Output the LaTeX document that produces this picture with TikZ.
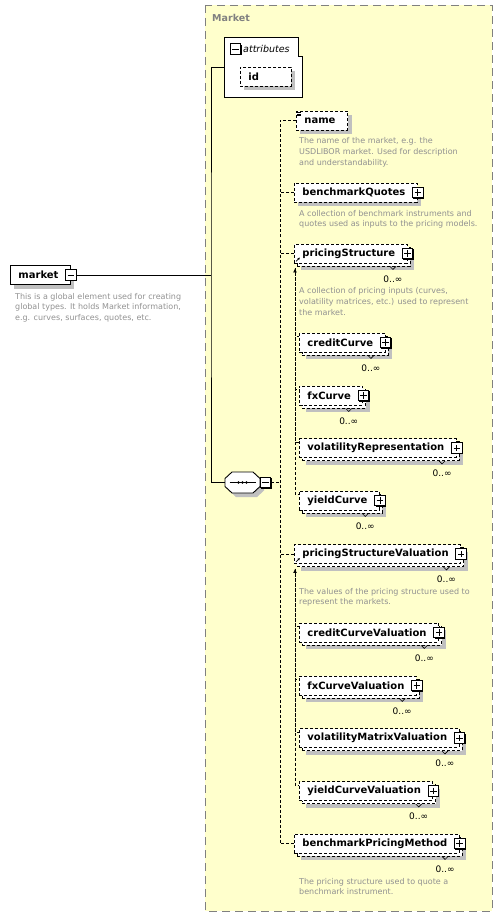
\documentclass[tikz,border=0pt]{standalone}
\usepackage{fontspec}
\setmainfont{DejaVu Sans}
\usetikzlibrary{arrows.meta, shadows, positioning, calc}
\definecolor{schemabg}{RGB}{255,255,204}
\definecolor{framegray}{RGB}{128,128,128}
\definecolor{notegray}{RGB}{145,145,145}
\definecolor{shadowgray}{RGB}{192,192,192}

\tikzset{
  elem/.style={draw, fill=white, line width=0.9pt, anchor=west,
    font=\bfseries\fontsize{10}{12}\selectfont, minimum height=19pt,
    inner xsep=8pt, inner ysep=0pt, execute at end node={\hspace*{4pt}}},
  opt/.style={dash pattern=on 3pt off 2pt},
  single/.style={drop shadow={shadow xshift=4pt, shadow yshift=-4pt,
    fill=shadowgray, opacity=1, draw=none}},
  many/.style={drop shadow={shadow xshift=7pt, shadow yshift=-7pt,
    fill=shadowgray, opacity=1, draw=none},
    copy shadow={shadow xshift=3pt, shadow yshift=-3pt, draw=black,
    fill=white, opacity=1, dash pattern=on 3pt off 2pt}},
  boxshadow/.style={drop shadow={shadow xshift=0.9pt, shadow yshift=-0.9pt,
    fill=black, opacity=1, draw=none}},
  plusbox/.style={draw, fill=white, line width=0.8pt, minimum size=10.5pt, inner sep=0pt, boxshadow,
    path picture={\draw[line width=0.7pt]
      ([xshift=2pt]path picture bounding box.west) -- ([xshift=-2pt]path picture bounding box.east)
      ([yshift=-2pt]path picture bounding box.north) -- ([yshift=2pt]path picture bounding box.south);}},
  minusbox/.style={draw, fill=white, line width=0.8pt, minimum size=10.5pt, inner sep=0pt, boxshadow,
    path picture={\draw[line width=0.7pt]
      ([xshift=2pt]path picture bounding box.west) -- ([xshift=-2pt]path picture bounding box.east);}},
  occ/.style={font=\fontsize{9}{10}\selectfont, anchor=base east, inner sep=0pt},
  note/.style={font=\fontsize{8}{10.7}\selectfont, text=notegray, align=left,
    anchor=north west, inner sep=0pt},
  conn/.style={line width=0.9pt, opt},
  solidline/.style={line width=0.9pt}
}

\begin{document}
\begin{tikzpicture}[x=1pt, y=-1pt]
  \useasboundingbox (0,0) rectangle (502,917);

  % complex type frame
  \draw[framegray, fill=schemabg, line width=0.9pt, dash pattern=on 8pt off 5pt] (205,5) rectangle (492,911);
  \node[font=\bfseries\fontsize{9.5}{11}\selectfont, text=framegray, anchor=west, inner sep=0pt] (title) at (212,18) {Market};

  % global element
  \node[elem, single] (market) at (10,275) {market};
  \node[minusbox] (marketM) at (market.east) {};
  \node[note] (marketNote) at (15,293) {This is a global element used for creating\\global types. It holds Market information,\\e.g. curves, surfaces, quotes, etc.};

  % attributes
  \node[minimum width=77pt, minimum height=59pt, inner sep=0pt] (attr) at (263.5,67.5) {};
  \draw[solidline, fill=white] (attr.north west) -- ([xshift=-4pt]attr.north east)
    -- ([xshift=-4pt,yshift=-19pt]attr.north east) -- ([yshift=-19pt]attr.north east)
    -- (attr.south east) -- (attr.south west) -- cycle;
  \node[minusbox] (attrM) at (235.5,49) {};
  \node[font=\itshape\fontsize{9.5}{11}\selectfont, anchor=west, inner sep=0pt] (attrT) at (243,48.5) {attributes};
  \node[elem, opt, single, text width=35pt, align=left] (id) at (240,76.5) {id};

  % sequence
  \node[minimum width=35pt, minimum height=21pt, inner sep=0pt] (seq) at (242.5,482.5) {};
  \draw[solidline, fill=white, single] ([shift={(-17.5,-4)}]seq.center) -- ([shift={(-10.5,-10.5)}]seq.center)
    -- ([shift={(10.5,-10.5)}]seq.center) -- ([shift={(17.5,-4)}]seq.center)
    -- ([shift={(17.5,4)}]seq.center) -- ([shift={(10.5,10.5)}]seq.center)
    -- ([shift={(-10.5,10.5)}]seq.center) -- ([shift={(-17.5,4)}]seq.center) -- cycle;
  \draw[solidline] ([xshift=-13pt]seq.center) -- ([xshift=13pt]seq.center);
  \foreach \dx in {-4,0,4}
    \fill ([xshift=\dx pt]seq.center) circle (1.4pt);
  \node[minusbox] (seqM) at (265.5,482.5) {};

  \coordinate (trunk) at (211,275);
  \draw[solidline] (marketM.east) -- (trunk);
  \draw[solidline] (attr.west) -| (trunk) |- (seq.west);

  % child elements
  \node[elem, opt, single] (name) at (296,120.5) {name};
  \node[note] (nameNote) at (299,137.5) {The name of the market, e.g. the\\USDLIBOR market. Used for description\\and understandability.};
  \draw[line width=0.6pt] ([shift={(1,2)}]name.north west) -- ++(4,0)
    ([shift={(1,3.5)}]name.north west) -- ++(4,0)
    ([shift={(1,5)}]name.north west) -- ++(4,0);

  \node[elem, opt, single] (bq) at (294,192.5) {benchmarkQuotes};
  \node[plusbox] at (bq.east) {};
  \node[note] (bqNote) at (299,210) {A collection of benchmark instruments and\\quotes used as inputs to the pricing models.};

  \node[elem, opt, many] (ps) at (294,253.5) {pricingStructure};
  \node[plusbox] at (ps.east) {};
  \node[occ] (occps) at ([shift={(-5,19)}]ps.south east) {0..∞};
  \node[note] (psNote) at (299,287.5) {A collection of pricing inputs (curves,\\volatility matrices, etc.) used to represent\\the market.};

  \node[elem, opt, many] (cc) at (299,342.5) {creditCurve};
  \node[plusbox] at (cc.east) {};
  \node[occ] (occcc) at ([shift={(-5,19)}]cc.south east) {0..∞};

  \node[elem, opt, many] (fx) at (299,395.5) {fxCurve};
  \node[plusbox] at (fx.east) {};
  \node[occ] (occfx) at ([shift={(-5,19)}]fx.south east) {0..∞};

  \node[elem, opt, many] (vr) at (299,448) {volatilityRepresentation};
  \node[plusbox] at (vr.east) {};
  \node[occ] (occvr) at ([shift={(-5,19)}]vr.south east) {0..∞};

  \node[elem, opt, many] (yc) at (299,500.5) {yieldCurve};
  \node[plusbox] at (yc.east) {};
  \node[occ] (occyc) at ([shift={(-5,19)}]yc.south east) {0..∞};

  \node[elem, opt, many] (psv) at (294,554) {pricingStructureValuation};
  \node[plusbox] at (psv.east) {};
  \node[occ] (occpsv) at ([shift={(-5,19)}]psv.south east) {0..∞};
  \node[note] (psvNote) at (299,588) {The values of the pricing structure used to\\represent the markets.};

  \node[elem, opt, many] (ccv) at (299,632.5) {creditCurveValuation};
  \node[plusbox] at (ccv.east) {};
  \node[occ] (occccv) at ([shift={(-5,19)}]ccv.south east) {0..∞};

  \node[elem, opt, many] (fxv) at (299,685.5) {fxCurveValuation};
  \node[plusbox] at (fxv.east) {};
  \node[occ] (occfxv) at ([shift={(-5,19)}]fxv.south east) {0..∞};

  \node[elem, opt, many] (vmv) at (299,738) {volatilityMatrixValuation};
  \node[plusbox] at (vmv.east) {};
  \node[occ] (occvmv) at ([shift={(-5,19)}]vmv.south east) {0..∞};

  \node[elem, opt, many] (ycv) at (299,791) {yieldCurveValuation};
  \node[plusbox] at (ycv.east) {};
  \node[occ] (occycv) at ([shift={(-5,19)}]ycv.south east) {0..∞};

  \node[elem, opt, many] (bpm) at (294,843.5) {benchmarkPricingMethod};
  \node[plusbox] at (bpm.east) {};
  \node[occ] (occbpm) at ([shift={(-5,19)}]bpm.south east) {0..∞};
  \node[note] (bpmNote) at (299,878) {The pricing structure used to quote a\\benchmark instrument.};

  % repeat notches
  \foreach \m in {ps, cc, fx, vr, yc, psv, ccv, fxv, vmv, ycv, bpm}
    \draw[line width=0.6pt] ($(occ\m.north |- \m.south)+(-3,3)$) -- ++(3,3) -- ++(3,-3);

  % sequence branches
  \coordinate (ctrunk) at (280,482.5);
  \draw[conn] (seqM.east) -- (ctrunk);
  \draw[conn] (name.west) -| (ctrunk) |- (bpm.west);
  \foreach \n in {bq, ps, psv}
    \draw[conn] (\n.west) -- (\n.west -| ctrunk);

  % substitution groups
  \draw[conn, {Latex[length=4pt,width=4pt]}-] ([shift={(1,5)}]ps.south west) |- ([yshift=-4pt]yc.north west);
  \foreach \m in {cc, fx, vr}
    \draw[conn] ([shift={(1,5)}]ps.south west) |- ([yshift=-4pt]\m.north west);
  \draw[conn, {Latex[length=4pt,width=4pt]}-] ([shift={(1,5)}]psv.south west) |- ([yshift=-4pt]ycv.north west);
  \foreach \m in {ccv, fxv, vmv}
    \draw[conn] ([shift={(1,5)}]psv.south west) |- ([yshift=-4pt]\m.north west);

  % reference arrows
  \foreach \r in {ps, psv}
    \draw[line width=0.7pt, -{Latex[length=2.5pt,width=2.5pt]}] ([shift={(2,-2)}]\r.south west) -- ++(4,-4);
\end{tikzpicture}
\end{document}
